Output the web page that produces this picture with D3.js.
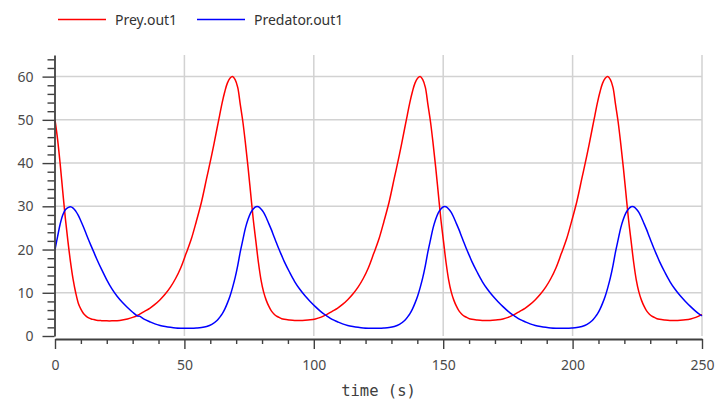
<!DOCTYPE html>
<html>
<head>
<meta charset="utf-8">
<script src="https://cdn.jsdelivr.net/npm/d3@7/dist/d3.min.js"></script>
<style>
  html, body { margin: 0; padding: 0; background: #ffffff; }
  svg { display: block; }
</style>
</head>
<body>
<svg id="chart"></svg>
<script>
// Sample times (s)
const time = [
  0, 1, 2, 3, 4, 5, 6, 7, 8, 9, 10, 11, 12, 13, 14, 15, 16, 18, 20, 22, 24, 26, 28, 30, 32,
  32.6, 34.6, 36.6, 38.6, 40.6, 42.6, 44.6, 46.6, 48.6, 50.6, 52.6, 54.6, 56.6, 58.6, 60.6,
  62.6, 63.6, 64.6, 65.6, 66.6, 67.6, 68.6, 69.6, 70.6, 71.6, 72.6, 73.6, 74.6, 75.6, 76.6,
  77.6, 78.6, 79.6, 80.6, 81.6, 82.6, 83.6, 84.6, 85.6, 86.6, 87.6, 88.6,
  90.6, 92.6, 94.6, 96.6, 98.6, 100.6, 102.6, 104.6,
  105.1, 107.1, 109.1, 111.1, 113.1, 115.1, 117.1, 119.1, 121.1, 123.1, 125.1, 127.1, 129.1, 131.1, 133.1,
  135.1, 136.1, 137.1, 138.1, 139.1, 140.1, 141.1, 142.1, 143.1, 144.1, 145.1, 146.1, 147.1, 148.1, 149.1,
  150.1, 151.1, 152.1, 153.1, 154.1, 155.1, 156.1, 157.1, 158.1, 159.1, 160.1, 161.1,
  163.1, 165.1, 167.1, 169.1, 171.1, 173.1, 175.1, 177.1,
  177.6, 179.6, 181.6, 183.6, 185.6, 187.6, 189.6, 191.6, 193.6, 195.6, 197.6, 199.6, 201.6, 203.6, 205.6,
  207.6, 208.6, 209.6, 210.6, 211.6, 212.6, 213.6, 214.6, 215.6, 216.6, 217.6, 218.6, 219.6, 220.6, 221.6,
  222.6, 223.6, 224.6, 225.6, 226.6, 227.6, 228.6, 229.6, 230.6, 231.6, 232.6, 233.6,
  235.6, 237.6, 239.6, 241.6, 243.6, 245.6, 247.6, 249.6, 250
];

// Prey.out1
const prey = [
  50, 45.5, 39.8, 33.4, 27.2, 21.9, 17.1, 13.1, 10.0, 7.6, 6.2, 5.2, 4.6, 4.2, 3.95, 3.8, 3.65, 3.55, 3.5, 3.5, 3.55, 3.7, 3.95, 4.3, 4.8,
  5.0, 5.7, 6.4, 7.3, 8.4, 9.7, 11.3, 13.3, 15.8, 19.0, 22.3, 26.5, 31.0, 36.5, 42.0,
  48.0, 51.0, 54.0, 56.5, 58.5, 59.6, 60.0, 59.3, 57.5, 53.5, 49.5, 44.5, 39.0, 33.0, 27.0,
  22.0, 17.0, 13.0, 10.2, 8.3, 6.9, 5.8, 5.1, 4.6, 4.3, 4.0, 3.85,
  3.7, 3.6, 3.6, 3.65, 3.75, 3.95, 4.3, 4.85,
  5.0, 5.7, 6.4, 7.3, 8.4, 9.7, 11.3, 13.3, 15.8, 19.0, 22.3, 26.5, 31.0, 36.5, 42.0,
  48.0, 51.0, 54.0, 56.5, 58.5, 59.6, 60.0, 59.3, 57.5, 53.5, 49.5, 44.5, 39.0, 33.0, 27.0,
  22.0, 17.0, 13.0, 10.2, 8.3, 6.9, 5.8, 5.1, 4.6, 4.3, 4.0, 3.85,
  3.7, 3.6, 3.6, 3.65, 3.75, 3.95, 4.3, 4.85,
  5.0, 5.7, 6.4, 7.3, 8.4, 9.7, 11.3, 13.3, 15.8, 19.0, 22.3, 26.5, 31.0, 36.5, 42.0,
  48.0, 51.0, 54.0, 56.5, 58.5, 59.6, 60.0, 59.3, 57.5, 53.5, 49.5, 44.5, 39.0, 33.0, 27.0,
  22.0, 17.0, 13.0, 10.2, 8.3, 6.9, 5.8, 5.1, 4.6, 4.3, 4.0, 3.85,
  3.7, 3.6, 3.6, 3.65, 3.75, 3.95, 4.3, 4.85, 4.9
];

// Predator.out1
const predator = [
  20, 23.0, 25.9, 28.0, 29.2, 29.7, 29.9, 29.6, 28.9, 27.9, 26.6, 25.2, 23.7, 22.2, 20.8, 19.4, 18.0, 15.4, 13.0, 10.9, 9.2, 7.8, 6.6, 5.5, 4.6,
  4.6, 3.85, 3.3, 2.8, 2.45, 2.2, 2.0, 1.85, 1.8, 1.8, 1.8, 1.85, 1.95, 2.2, 2.7,
  3.6, 4.3, 5.1, 6.2, 7.6, 9.2, 11.2, 13.5, 16.3, 19.5, 22.3, 25.0, 27.0, 28.5, 29.4,
  29.9, 29.9, 29.4, 28.6, 27.4, 26.0, 24.6, 23.0, 21.5, 20.0, 18.6, 17.2,
  14.8, 12.6, 10.8, 9.3, 8.0, 6.8, 5.7, 4.8,
  4.6, 3.85, 3.3, 2.8, 2.45, 2.2, 2.0, 1.85, 1.8, 1.8, 1.8, 1.85, 1.95, 2.2, 2.7,
  3.6, 4.3, 5.1, 6.2, 7.6, 9.2, 11.2, 13.5, 16.3, 19.5, 22.3, 25.0, 27.0, 28.5, 29.4,
  29.9, 29.9, 29.4, 28.6, 27.4, 26.0, 24.6, 23.0, 21.5, 20.0, 18.6, 17.2,
  14.8, 12.6, 10.8, 9.3, 8.0, 6.8, 5.7, 4.8,
  4.6, 3.85, 3.3, 2.8, 2.45, 2.2, 2.0, 1.85, 1.8, 1.8, 1.8, 1.85, 1.95, 2.2, 2.7,
  3.6, 4.3, 5.1, 6.2, 7.6, 9.2, 11.2, 13.5, 16.3, 19.5, 22.3, 25.0, 27.0, 28.5, 29.4,
  29.9, 29.9, 29.4, 28.6, 27.4, 26.0, 24.6, 23.0, 21.5, 20.0, 18.6, 17.2,
  14.8, 12.6, 10.8, 9.3, 8.0, 6.8, 5.7, 4.8, 4.65
];

// Axis ticks
const xMajorTicks = [0, 50, 100, 150, 200, 250];
const xMinorTicks = [10, 20, 30, 40, 60, 70, 80, 90, 110, 120, 130, 140, 160, 170, 180, 190, 210, 220, 230, 240];
const yMajorTicks = [0, 10, 20, 30, 40, 50, 60];
const yMinorTicks = [2, 4, 6, 8, 12, 14, 16, 18, 22, 24, 26, 28, 32, 34, 36, 38, 42, 44, 46, 48, 52, 54, 56, 58, 62, 64];
const seriesNames = ['Prey.out1', 'Predator.out1'];

const colors = ['#ff0000', '#0000ff'];
const width = 715;
const height = 406;
const margin = { top: 55, right: 13, bottom: 70, left: 55 };
const axisColor = '#404040';
const gridColor = '#d2d2d2';
const font = '"Noto Sans", "Open Sans", sans-serif';

const svg = d3.select('#chart')
  .attr('width', width)
  .attr('height', height);

const xScale = d3.scaleLinear()
  .domain([0, 250])
  .range([margin.left, width - margin.right]);

const yScale = d3.scaleLinear()
  .domain([0, 65])
  .range([height - margin.bottom, margin.top]);

// Grid lines
svg.append('g')
  .selectAll('line')
  .data(yMajorTicks.filter(d => d > 0))
  .enter()
  .append('line')
  .attr('x1', xScale(0))
  .attr('x2', xScale(250))
  .attr('y1', d => yScale(d))
  .attr('y2', d => yScale(d))
  .attr('stroke', gridColor)
  .attr('stroke-width', 1.5);

svg.append('g')
  .selectAll('line')
  .data(xMajorTicks.filter(d => d > 0))
  .enter()
  .append('line')
  .attr('x1', d => xScale(d))
  .attr('x2', d => xScale(d))
  .attr('y1', yScale(65))
  .attr('y2', yScale(0))
  .attr('stroke', gridColor)
  .attr('stroke-width', 1.5);

// Series
const series = [prey, predator];
const line = d3.line()
  .x(d => xScale(d[0]))
  .y(d => yScale(d[1]))
  .curve(d3.curveCatmullRom.alpha(0.5));

series.forEach((values, i) => {
  svg.append('path')
    .datum(time.map((t, j) => [t, values[j]]))
    .attr('fill', 'none')
    .attr('stroke', colors[i])
    .attr('stroke-width', 1.5)
    .attr('d', line);
});

// Y axis (left of canvas)
const yAxisG = svg.append('g')
  .attr('transform', `translate(${margin.left - 0.5}, 0)`);

yAxisG.append('g')
  .call(d3.axisLeft(yScale).tickValues(yMinorTicks).tickSize(7).tickSizeOuter(0).tickFormat(''))
  .call(g => g.select('.domain').remove());

yAxisG.append('g')
  .call(d3.axisLeft(yScale).tickValues(yMajorTicks).tickSize(12).tickSizeOuter(0).tickPadding(9));

// X axis (below canvas)
const xAxisG = svg.append('g')
  .attr('transform', `translate(0, ${height - margin.bottom + 3})`);

xAxisG.append('g')
  .call(d3.axisBottom(xScale).tickValues(xMinorTicks).tickSize(5).tickSizeOuter(0).tickFormat(''))
  .call(g => g.select('.domain').remove());

xAxisG.append('g')
  .call(d3.axisBottom(xScale).tickValues(xMajorTicks).tickSize(10).tickSizeOuter(0).tickPadding(11));

svg.selectAll('.domain')
  .attr('stroke', axisColor)
  .attr('stroke-width', 1.8);

svg.selectAll('.tick line')
  .attr('stroke', axisColor)
  .attr('stroke-width', 1.4);

svg.selectAll('.tick text')
  .attr('fill', '#4a4a4a')
  .style('font-family', font)
  .style('font-size', '14px');

// Axis title
svg.append('text')
  .attr('x', (xScale(0) + xScale(250)) / 2)
  .attr('y', 396)
  .attr('text-anchor', 'middle')
  .attr('fill', '#404040')
  .style('font-family', '"DejaVu Sans Mono", monospace')
  .style('font-size', '15.5px')
  .text('time (s)');

// Legend
const legendX = [58, 197];
seriesNames.forEach((name, i) => {
  const g = svg.append('g').attr('transform', `translate(${legendX[i]}, 19.5)`);
  g.append('line')
    .attr('x1', 0)
    .attr('x2', 48)
    .attr('stroke', colors[i])
    .attr('stroke-width', 1.5);
  g.append('text')
    .attr('x', 57)
    .attr('y', 5)
    .attr('fill', '#333333')
    .style('font-family', font)
    .style('font-size', '14px')
    .text(name);
});
</script>
</body>
</html>
